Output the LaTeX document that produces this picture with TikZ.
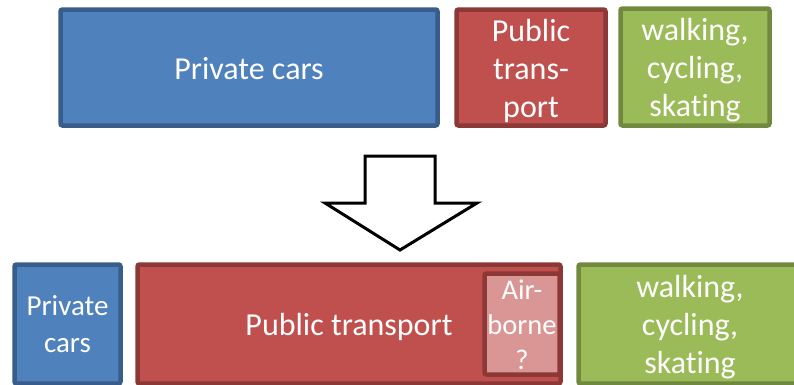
\documentclass[tikz,border=0pt]{standalone}
\usepackage{fontspec}
\setmainfont{Carlito}[Ligatures=NoCommon]
\definecolor{carblue}{HTML}{4F81BD}
\definecolor{carblueline}{HTML}{385D8A}
\definecolor{pubred}{HTML}{C0504D}
\definecolor{pubredline}{HTML}{8C3836}
\definecolor{actgreen}{HTML}{9BBB59}
\definecolor{actgreenline}{HTML}{71893F}
\definecolor{airpink}{HTML}{D99694}
\tikzset{
  modebox/.style={draw, line width=4.5pt, rounded corners=2pt},
  carbox/.style={modebox, fill=carblue, draw=carblueline},
  pubbox/.style={modebox, fill=pubred, draw=pubredline},
  actbox/.style={modebox, fill=actgreen, draw=actgreenline},
  modetext/.style={text=white, align=center, inner sep=0pt, font=\fontsize{32}{38}\selectfont},
}
\begin{document}
\begin{tikzpicture}[x=1pt,y=-1pt]
        \clip (0,0) rectangle (794,384);
        % before
        \node[carbox, minimum width=377pt, minimum height=116pt] (privtop) at (249,67.5) {};
        \node[modetext] (privtoptext) at ([yshift=-1pt]privtop.center) {Private cars};
        \node[pubbox, minimum width=149pt, minimum height=116pt] (pubtop) at (531,67.5) {};
        \node[modetext] (pubtoptext) at ([yshift=-3pt]pubtop.center) {Public\\trans-\\port};
        \node[actbox, minimum width=149pt, minimum height=117pt] (acttop) at (695,67) {};
        \node[modetext] (acttoptext) at ([yshift=-3pt]acttop.center) {walking,\\cycling,\\skating};
        % change
        \draw[line width=3pt, fill=white, line join=miter] (365,156) -- (435,156) -- (435,203) -- (477,203)
          -- (400,250) -- (325,203) -- (365,203) -- cycle;
        % after
        \node[carbox, minimum width=106pt, minimum height=119pt] (privbot) at (67.5,324) {};
        \node[modetext, font=\fontsize{29}{37}\selectfont] (privbottext) at (privbot.center) {Private\\cars};
        \node[pubbox, minimum width=423pt, minimum height=119pt] (pubbot) at (349,324) {};
        \node[modetext] (pubbottext) at ([yshift=-3pt]pubbot.center) {Public transport};
        \node[modebox, fill=airpink, draw=pubredline, minimum width=75pt, minimum height=101pt] (air) at (522,324) {};
        \node[modetext, font=\fontsize{28.5}{35}\selectfont] (airtext) at ([yshift=-1pt]air.center) {Air-\\borne\\?};
        \node[actbox, minimum width=223pt, minimum height=119pt] (actbot) at (690,324) {};
        \node[modetext] (actbottext) at ([yshift=-3pt]actbot.center) {walking,\\cycling,\\skating};
\end{tikzpicture}
\end{document}
